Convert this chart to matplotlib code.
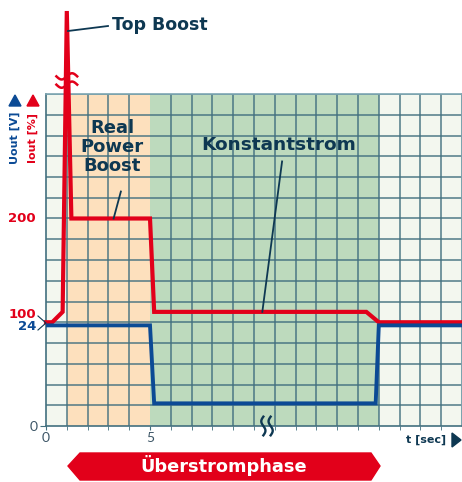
import matplotlib.pyplot as plt
import numpy as np
from matplotlib.patches import Polygon

# current in percent of nominal, voltage in volts
red_t = [0, 0.3, 0.8, 1.0, 1.22, 5.0, 5.2, 15.4, 16.0, 20]
red_i = [100, 100, 110, 400, 200, 200, 110, 110, 100, 100]
blue_t = [0, 5.0, 5.2, 15.85, 16.0, 20]
blue_u = [24, 24, 5.4, 5.4, 24, 24]

phases = [(0, 1, '#f3f7ef'), (1, 5, '#fde0bd'), (5, 16, '#bddabd'), (16, 20, '#f3f7ef')]
xtick_vals = [0, 5]
xtick_labels = ['0', '5']

RED = '#e2001a'
BLUE = '#0b4a95'
NAVY = '#0e3852'
GRID = '#42707f'
FONT = 'DejaVu Sans'

W, H = 462, 482
fig = plt.figure(figsize=(W / 100, H / 100), dpi=100)
ax = fig.add_axes([46 / W, 1 - 426 / H, 416 / W, 332 / H])

for a, b, c in phases:
    ax.axvspan(a, b, color=c, zorder=0, lw=0)

ax.set_xlim(0, 20)
ax.set_ylim(0, 320)
ax.set_xticks(np.arange(0, 21, 1), minor=True)
ax.set_yticks(np.arange(0, 321, 20), minor=True)
ax.grid(which='minor', color=GRID, lw=1.2, alpha=0.85, zorder=1)
ax.set_axisbelow(True)
for s in ax.spines.values():
    s.set_color('#7ea7b3')
    s.set_linewidth(1.2)
ax.spines['bottom'].set_color(GRID)
ax.spines['left'].set_color(GRID)

ax.set_xticks(xtick_vals)
ax.set_xticklabels(xtick_labels, fontsize=10, color='#3c5566', family='Lato')
ax.tick_params(axis='x', which='both', length=3, color=GRID, pad=1)
ax.set_yticks([0])
ax.set_yticklabels(['0'], fontsize=10, color='#3c5566', family='Lato')
ax.tick_params(axis='y', which='major', length=4, color=GRID, pad=2)
ax.tick_params(axis='y', which='minor', length=0)

# voltage on its own scale, 24 V sits just under the 100 % line
ax2 = ax.twinx()
ax2.set_ylim(0, 320 * 24 / 97)
ax2.axis('off')
ax2.plot(blue_t, blue_u, color=BLUE, lw=2.8, solid_joinstyle='miter', zorder=3)
ax.plot(red_t, red_i, color=RED, lw=3.0, solid_joinstyle='miter', zorder=4, clip_on=False)
ax2.set_zorder(2)
ax.set_zorder(1)

# break marks on the peak and on the time axis
xs = np.linspace(-0.5, 0.5, 30)
for yy in (337, 329):
    ax.plot(1.0 + xs, yy + 3 * np.sin(xs / 0.5 * np.pi), color=RED, lw=1.8,
            clip_on=False, zorder=6)
ys = np.linspace(-9, 9, 30)
for xx in (10.45, 10.8):
    ax.plot(xx - 0.1 * np.sin(ys / 9 * np.pi), ys, color=NAVY, lw=1.7,
            clip_on=False, zorder=6)

# annotations
fig.text(112 / W, 1 - 25 / H, 'Top Boost', fontsize=12.5, fontweight='bold',
         color=NAVY, family=FONT, va='center', ha='left')
fig.add_artist(plt.Line2D([68 / W, 108 / W], [1 - 31 / H, 1 - 26 / H], color=NAVY, lw=1.3))
fig.text(112 / W, 1 - 147 / H, 'Real\nPower\nBoost', fontsize=13, fontweight='bold',
         color=NAVY, family=FONT, va='center', ha='center', linespacing=1.1)
ax.plot([3.25, 3.6], [200, 226], color=NAVY, lw=1.3, zorder=5)
fig.text(279 / W, 1 - 145 / H, 'Konstantstrom', fontsize=13.3, fontweight='bold',
         color=NAVY, family=FONT, va='center', ha='center')
ax.plot([10.4, 11.35], [110, 255], color=NAVY, lw=1.3, zorder=5)

# 100 % / 24 V and 200 % labels
fig.text(36 / W, 1 - 314 / H, '100', fontsize=9.5, fontweight='bold', color=RED,
         family=FONT, ha='right', va='center')
fig.text(36 / W, 1 - 327 / H, '24', fontsize=9.5, fontweight='bold', color=BLUE,
         family=FONT, ha='right', va='center')
fig.add_artist(plt.Line2D([38 / W, 46 / W, 38 / W], [1 - 316 / H, 1 - 323 / H, 1 - 330 / H],
                          color=NAVY, lw=0.8))
fig.text(36 / W, 1 - 218 / H, '200', fontsize=9.5, fontweight='bold', color=RED,
         family=FONT, ha='right', va='center')

# axis titles
fig.text(15 / W, 1 - 138 / H, 'Uout [V]', fontsize=8, fontweight='bold', color=BLUE,
         family=FONT, rotation=90, ha='center', va='center')
fig.text(33 / W, 1 - 138 / H, 'Iout [%]', fontsize=8, fontweight='bold', color=RED,
         family=FONT, rotation=90, ha='center', va='center')
fig.add_artist(Polygon([[9 / W, 1 - 106 / H], [21 / W, 1 - 106 / H], [15 / W, 1 - 95 / H]],
                       closed=True, color=BLUE, transform=fig.transFigure))
fig.add_artist(Polygon([[27 / W, 1 - 106 / H], [39 / W, 1 - 106 / H], [33 / W, 1 - 95 / H]],
                       closed=True, color=RED, transform=fig.transFigure))
fig.text(446 / W, 1 - 440 / H, 't [sec]', fontsize=8, fontweight='bold', color=NAVY,
         family=FONT, ha='right', va='center')
fig.add_artist(Polygon([[452 / W, 1 - 433 / H], [452 / W, 1 - 447 / H], [461 / W, 1 - 440 / H]],
                       closed=True, color=NAVY, transform=fig.transFigure))

# phase banner
banner = [[68, 466], [80, 453], [371, 453], [380, 466], [371, 480], [80, 480]]
fig.add_artist(Polygon([[x / W, 1 - y / H] for x, y in banner], closed=True,
                       color=RED, transform=fig.transFigure))
fig.text(224 / W, 1 - 466 / H, 'Überstromphase', fontsize=12.8, fontweight='bold',
         color='white', family=FONT, ha='center', va='center')

fig.savefig('out.png', dpi=100)
